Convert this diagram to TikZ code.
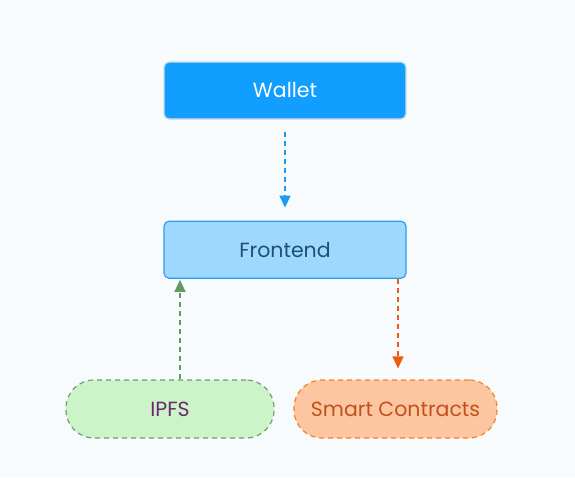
\documentclass[tikz,border=0pt]{standalone}
\usepackage{fontspec}
\setmainfont{Poppins}
\usetikzlibrary{positioning}
\usetikzlibrary{arrows.meta}
\usetikzlibrary{calc}

\definecolor{bgcol}{HTML}{F8FBFE}
\definecolor{walletfill}{HTML}{129EFF}
\definecolor{walletline}{HTML}{D3DCE4}
\definecolor{frontfill}{HTML}{9ED8FF}
\definecolor{frontline}{HTML}{2C9EF2}
\definecolor{fronttext}{HTML}{1F4F78}
\definecolor{ipfsfill}{HTML}{CDF3C9}
\definecolor{ipfsline}{HTML}{6E9E70}
\definecolor{ipfstext}{HTML}{6A2B6E}
\definecolor{scfill}{HTML}{FCC6A0}
\definecolor{scline}{HTML}{F5821F}
\definecolor{sctext}{HTML}{C4501C}
\definecolor{arrowblue}{HTML}{1E9BF0}
\definecolor{arrowgreen}{HTML}{5F9B62}
\definecolor{arroworange}{HTML}{EE5A10}

\begin{document}
\begin{tikzpicture}[
          box/.style = {rectangle, rounded corners=5pt, minimum width=242pt, minimum height=57pt, align=center, line width=1.2pt},
          pill/.style = {rectangle, rounded corners=28pt, minimum height=58pt, align=center, line width=1.2pt, dashed, dash pattern=on 5pt off 4pt},
          arrow/.style = {line width=1.2pt, -{Triangle[width=11pt,length=12pt]}, dash pattern=on 5pt off 4pt},
          font = \fontsize{20.5}{24}\selectfont
        ]

        \useasboundingbox[fill=bgcol] (0,0) rectangle (575pt,-477pt);

        % Nodes
        \node[box, fill=walletfill, draw=walletline, text=white] (wallet) at (285pt,-90.5pt) {Wallet};
        \node[box, fill=frontfill, draw=frontline, text=fronttext, below=101pt of wallet] (frontend) {Frontend};
        \node[pill, fill=ipfsfill, draw=ipfsline, text=ipfstext, minimum width=208pt] (ipfs) at (170pt,-409pt) {IPFS};
        \node[pill, fill=scfill, draw=scline, text=sctext, minimum width=203pt] (contracts) at (395.5pt,-409pt) {Smart Contracts};

        % Paths between nodes
        \draw[arrow, arrowblue, shorten <=12pt, shorten >=13pt] (wallet) -- (frontend);
        \draw[arrow, arrowgreen, shorten >=1pt] ([xshift=10pt]ipfs.north) -- ([xshift=10pt]ipfs.north |- frontend.south);
        \draw[arrow, arroworange, shorten >=11pt] ([xshift=2.5pt]contracts.north |- frontend.south) -- ([xshift=2.5pt]contracts.north);

      \end{tikzpicture}
\end{document}
